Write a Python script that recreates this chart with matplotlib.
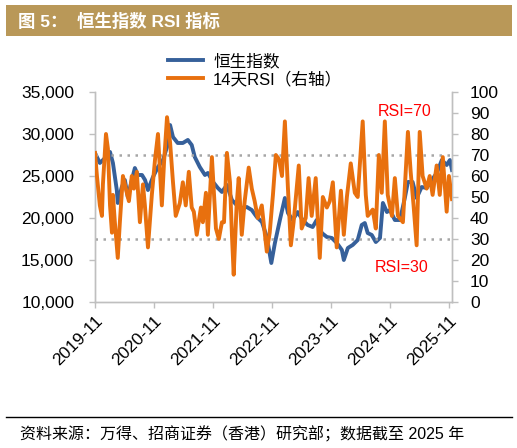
import matplotlib
matplotlib.use('Agg')
import matplotlib.pyplot as plt
from matplotlib.patches import Rectangle
from matplotlib.ticker import FuncFormatter, MultipleLocator
import pandas as pd

plt.rcParams['font.family'] = ['Liberation Sans', 'Noto Sans CJK SC', 'DejaVu Sans']

# Hang Seng Index (left axis)
hsi_dates = ['2019-11-01', '2019-12-01', '2020-01-02', '2020-02-02', '2020-02-20', '2020-03-15',
             '2020-03-21', '2020-04-15', '2020-05-04', '2020-05-22', '2020-06-16', '2020-07-05',
             '2020-07-23', '2020-08-18', '2020-09-06', '2020-09-24', '2020-10-25', '2020-11-25',
             '2020-12-26', '2021-01-20', '2021-02-08', '2021-02-26', '2021-03-27', '2021-04-28',
             '2021-05-29', '2021-06-22', '2021-07-11', '2021-08-11', '2021-09-12', '2021-09-30',
             '2021-11-01', '2021-12-01', '2021-12-26', '2022-01-26', '2022-02-26', '2022-03-27',
             '2022-04-28', '2022-05-29', '2022-06-29', '2022-07-30', '2022-08-31', '2022-09-30',
             '2022-10-28', '2022-11-19', '2022-12-20', '2023-01-20', '2023-02-08', '2023-03-09',
             '2023-04-09', '2023-05-10', '2023-06-10', '2023-07-11', '2023-08-05', '2023-09-06',
             '2023-10-07', '2023-11-07', '2023-12-08', '2024-01-08', '2024-01-20', '2024-02-14',
             '2024-03-15', '2024-04-15', '2024-05-10', '2024-05-29', '2024-06-16', '2024-07-11',
             '2024-08-05', '2024-08-31', '2024-09-18', '2024-10-13', '2024-11-01', '2024-12-01',
             '2025-01-02', '2025-02-02', '2025-02-20', '2025-03-21', '2025-04-15', '2025-05-16',
             '2025-06-16', '2025-07-17', '2025-08-18', '2025-09-18', '2025-10-18', '2025-11-07',
             '2025-11-20']
hsi_values = [27740, 26550, 27140, 27860, 26550, 23330,
              21790, 23690, 24520, 22500, 24520, 25950,
              25120, 25120, 24520, 23330, 24880, 26070,
              26900, 28450, 31070, 29640, 28930, 28930,
              29290, 28690, 27260, 26070, 25120, 25360,
              24290, 23570, 23100, 23930, 22140, 21550,
              21190, 21310, 20950, 20120, 19520, 17740,
              14640, 17000, 19760, 22380, 20600, 19760,
              20710, 19760, 19170, 18930, 19760, 18210,
              17740, 17620, 17020, 16190, 15000, 16430,
              16790, 17380, 19170, 19400, 18210, 17980,
              17140, 17620, 21790, 20710, 20950, 19760,
              19760, 22500, 24290, 24290, 22380, 23690,
              23570, 24520, 25360, 26900, 26310, 26900,
              25710]

# 14-day RSI (right axis)
rsi_dates = ['2019-11-01', '2019-11-13', '2019-12-01', '2019-12-14', '2019-12-20', '2020-01-08',
             '2020-01-20', '2020-02-02', '2020-02-14', '2020-02-20', '2020-03-03', '2020-03-21',
             '2020-04-03', '2020-04-22', '2020-05-16', '2020-05-29', '2020-06-16', '2020-06-29',
             '2020-07-17', '2020-08-05', '2020-08-24', '2020-09-05', '2020-09-24', '2020-10-18',
             '2020-11-07', '2020-11-25', '2020-12-19', '2021-01-02', '2021-01-20', '2021-02-08',
             '2021-02-26', '2021-03-15', '2021-04-09', '2021-04-28', '2021-05-16', '2021-06-04',
             '2021-06-22', '2021-07-05', '2021-07-23', '2021-08-18', '2021-08-30', '2021-09-18',
             '2021-09-30', '2021-10-25', '2021-11-19', '2021-12-07', '2021-12-26', '2022-01-08',
             '2022-01-26', '2022-02-14', '2022-02-26', '2022-03-09', '2022-03-27', '2022-04-09',
             '2022-04-28', '2022-05-16', '2022-06-10', '2022-06-29', '2022-07-17', '2022-08-05',
             '2022-08-30', '2022-09-17', '2022-09-30', '2022-10-18', '2022-11-07', '2022-11-25',
             '2022-12-14', '2023-01-02', '2023-01-20', '2023-02-08', '2023-02-26', '2023-03-15',
             '2023-04-16', '2023-05-04', '2023-05-29', '2023-06-16', '2023-07-05', '2023-07-30',
             '2023-08-24', '2023-09-12', '2023-10-07', '2023-10-25', '2023-11-13', '2023-12-07',
             '2024-01-02', '2024-01-20', '2024-02-08', '2024-03-03', '2024-03-28', '2024-04-15',
             '2024-05-16', '2024-06-04', '2024-06-16', '2024-07-17', '2024-08-05', '2024-08-24',
             '2024-09-11', '2024-09-30', '2024-10-18', '2024-11-13', '2024-12-01', '2024-12-20',
             '2025-01-20', '2025-02-20', '2025-03-09', '2025-03-27', '2025-04-15', '2025-05-04',
             '2025-05-22', '2025-06-16', '2025-07-05', '2025-07-23', '2025-08-17', '2025-09-05',
             '2025-09-24', '2025-10-18', '2025-11-01', '2025-11-20']
rsi_values = [71, 60, 46, 41, 56, 80,
              73, 46, 33, 51, 38, 21,
              38, 60, 52, 48, 60, 54,
              62, 38, 56, 46, 26, 51,
              68, 80, 46, 67, 88, 76,
              57, 41, 47, 57, 46, 62,
              45, 43, 32, 45, 38, 52,
              32, 69, 35, 30, 38, 38,
              71, 57, 32, 13, 46, 59,
              32, 48, 64, 54, 48, 40,
              46, 33, 24, 33, 51, 70,
              68, 60, 86, 54, 27, 38,
              65, 35, 40, 59, 41, 59,
              21, 50, 45, 48, 57, 26,
              53, 32, 50, 66, 52, 50,
              86, 51, 41, 44, 35, 70,
              52, 86, 51, 41, 59, 41,
              38, 81, 62, 46, 27, 81,
              60, 54, 60, 51, 65, 51,
              69, 43, 60, 49]

rsi_levels = [70, 30]
left_ticks = [10000, 15000, 20000, 25000, 30000, 35000]
xtick_labels = ['2019-11', '2020-11', '2021-11', '2022-11', '2023-11', '2024-11', '2025-11']

title_text = '图 5：  恒生指数 RSI 指标'
source_text = '资料来源：万得、招商证券（香港）研究部；数据截至 2025 年'

BLUE = '#36609A'
ORANGE = '#E8700E'
GRID_GRAY = '#BFBFBF'

hsi_x = pd.to_datetime(hsi_dates)
rsi_x = pd.to_datetime(rsi_dates)

fig = plt.figure(figsize=(5.17, 4.48), dpi=100)
ax = fig.add_axes([95 / 517, 1 - 302 / 448, 357 / 517, 210 / 448])
ax2 = ax.twinx()

# title bar
fig.patches.append(Rectangle((6 / 517, 1 - 36 / 448), 506 / 517, 31 / 448,
                             transform=fig.transFigure, facecolor='#B99858', edgecolor='none'))
fig.text(18 / 517, 1 - 21 / 448, title_text, color='white', fontsize=12.5,
         fontweight='bold', va='center', ha='left')

l1, = ax.plot(hsi_x, hsi_values, color=BLUE, linewidth=2.8, label='恒生指数',
              solid_joinstyle='round')
for lvl in rsi_levels:
    ax2.axhline(lvl, color='#A6A6A6', linestyle=(0, (1, 2.2)), linewidth=1.8, zorder=1)
l2, = ax2.plot(rsi_x, rsi_values, color=ORANGE, linewidth=2.8, label='14天RSI（右轴）',
               zorder=3, solid_joinstyle='round')

ax.set_ylim(10000, 35000)
ax.set_yticks(left_ticks)
ax.yaxis.set_major_formatter(FuncFormatter(lambda v, p: f'{int(v):,}'))
ax2.set_ylim(0, 100)
ax2.yaxis.set_major_locator(MultipleLocator(10))

ax.set_xlim(pd.Timestamp('2019-11-01'), pd.Timestamp('2025-11-20'))
xticks = pd.to_datetime([s + '-01' for s in xtick_labels])
ax.set_xticks(xticks)
ax.set_xticklabels(xtick_labels, rotation=45, ha='right', rotation_mode='anchor')

for a in (ax, ax2):
    a.spines['top'].set_visible(False)
    for s in ('left', 'right', 'bottom'):
        a.spines[s].set_color(GRID_GRAY)
        a.spines[s].set_linewidth(1.0)
    a.tick_params(colors=GRID_GRAY, labelcolor='black', labelsize=12.5, length=4, width=1.0)
ax.tick_params(axis='y', pad=11)
ax2.tick_params(axis='y', pad=9)
ax.tick_params(axis='x', pad=4)

ax2.text(0.868, 0.905, 'RSI=70', transform=ax2.transAxes, color='red', fontsize=11.5,
         ha='center', va='center')
ax2.text(0.86, 0.165, 'RSI=30', transform=ax2.transAxes, color='red', fontsize=11.5,
         ha='center', va='center')

fig.legend(handles=[l1, l2], loc='upper left', bbox_to_anchor=(168 / 517, 1 - 53 / 448),
           frameon=False, fontsize=12, handlelength=2.1, handletextpad=0.6,
           labelspacing=0.15, borderpad=0, borderaxespad=0)

# source line
fig.add_artist(plt.Line2D([6 / 517, 512 / 517], [1 - 417 / 448, 1 - 417 / 448],
                          transform=fig.transFigure, color='black', linewidth=1.0))
fig.text(20 / 517, 1 - 434 / 448, source_text, fontsize=11.5, va='center', ha='left')

plt.savefig('out.png', dpi=100)
plt.close()
